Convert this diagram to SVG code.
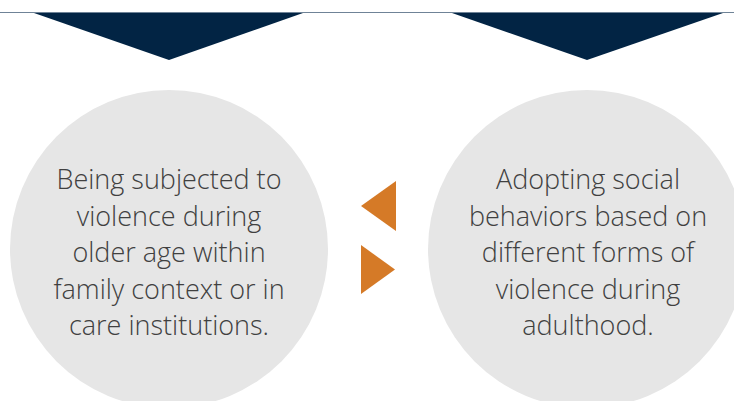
<svg xmlns="http://www.w3.org/2000/svg" width="734" height="401" viewBox="0 0 734 401">
<style>
.bg{fill:#ffffff}
.chev{fill:#022444}
.circ{fill:#e6e6e6}
.arr{fill:#d57a27}
.t{font-family:"Open Sans","Liberation Sans",sans-serif;font-size:27px;font-weight:300;fill:#404040;text-anchor:middle}
</style>
<rect class="bg" x="0" y="0" width="734" height="401"/>
<line x1="0" y1="12.5" x2="734" y2="12.5" stroke="#6f8397" stroke-width="1.2"/>
<g id="chevron-left"><polygon class="chev" points="34,13 303,13 169,60"/></g>
<g id="chevron-right"><polygon class="chev" points="452,13 723,13 587,60"/></g>
<g id="node-left">
<circle class="circ" cx="169" cy="249" r="159"/>
<text class="t" x="169" y="189">Being subjected to</text>
<text class="t" x="169" y="225.5">violence during</text>
<text class="t" x="169" y="262">older age within</text>
<text class="t" x="169" y="298.5">family context or in</text>
<text class="t" x="169" y="335">care institutions.</text>
</g>
<g id="node-right">
<circle class="circ" cx="587" cy="249" r="159"/>
<text class="t" x="588" y="189">Adopting social</text>
<text class="t" x="588" y="225.5">behaviors based on</text>
<text class="t" x="588" y="262">different forms of</text>
<text class="t" x="588" y="298.5">violence during</text>
<text class="t" x="588" y="335">adulthood.</text>
</g>
<g id="connectors">
<polygon class="arr" points="396,181 396,231 361,206"/>
<polygon class="arr" points="361,245 361,294 395,269.5"/>
</g>
</svg>
